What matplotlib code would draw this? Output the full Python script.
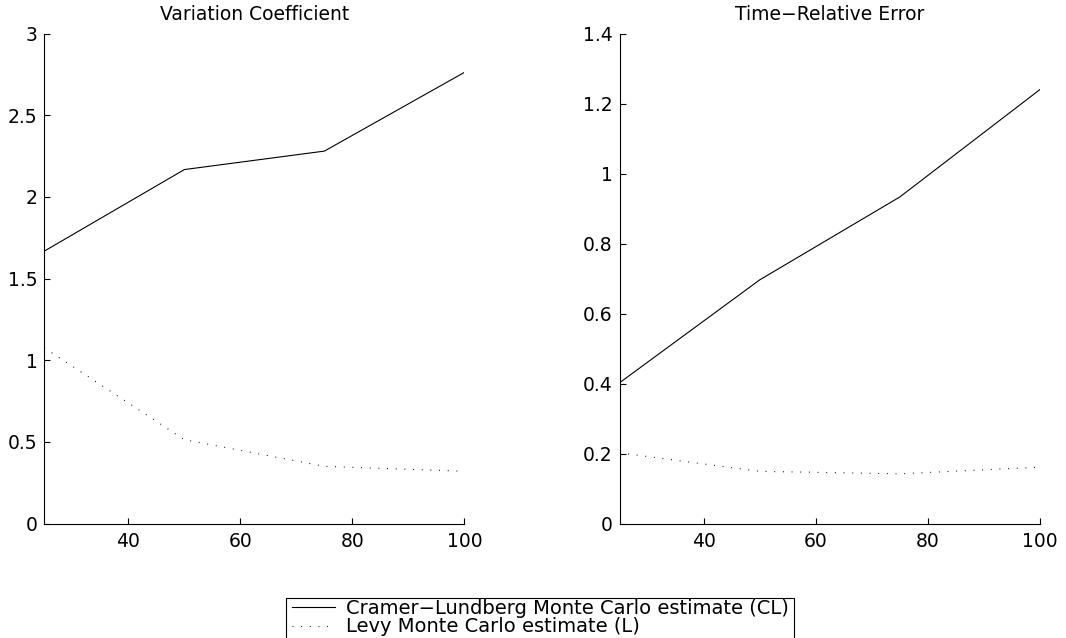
import matplotlib.pyplot as plt
from matplotlib.patches import Rectangle

plt.rcParams['font.family'] = ['DejaVu Sans']
plt.rcParams['font.size'] = 13.5

# sample sizes
n = [25, 50, 75, 100]

# variation coefficient
vc_cl = [1.668, 2.167, 2.280, 2.762]
vc_l = [1.075, 0.513, 0.350, 0.320]

# time-relative error
tre_cl = [0.402, 0.696, 0.933, 1.240]
tre_l = [0.202, 0.149, 0.142, 0.161]

labels = ['Cramer\u2212Lundberg Monte Carlo estimate (CL)',
          'Levy Monte Carlo estimate (L)']

dotted = (0, (0.8, 7))
W, H = 1066, 638


def style_axes(ax, ymax, yticks):
    ax.set_xlim(25, 100)
    ax.set_ylim(0, ymax)
    ax.set_xticks([40, 60, 80, 100])
    ax.set_yticks(yticks)
    ax.set_yticklabels(['%g' % t for t in yticks])
    ax.spines['top'].set_visible(False)
    ax.spines['right'].set_visible(False)
    for s in ('left', 'bottom'):
        ax.spines[s].set_linewidth(0.8)
    ax.tick_params(direction='in', length=4.5, width=0.8, labelsize=13.5)
    ax.tick_params(axis='x', pad=6)
    ax.tick_params(axis='y', pad=5)


fig = plt.figure(figsize=(W / 100, H / 100), dpi=100)
ax1 = fig.add_axes([44.4 / W, 114.5 / H, 420 / W, 490 / H])
ax2 = fig.add_axes([619.5 / W, 114.5 / H, 420.5 / W, 490 / H])

l1, = ax1.plot(n, vc_cl, color='black', lw=0.8)
l2, = ax1.plot(n, vc_l, color='black', lw=0.8, linestyle=dotted)
ax1.set_title('Variation Coefficient', fontsize=13.5, y=1.0, pad=10)
style_axes(ax1, 3, [0, 0.5, 1, 1.5, 2, 2.5, 3])

ax2.plot(n, tre_cl, color='black', lw=0.8)
ax2.plot(n, tre_l, color='black', lw=0.8, linestyle=dotted)
ax2.set_title('Time\u2212Relative Error', fontsize=13.5, y=1.0, pad=10)
style_axes(ax2, 1.4, [0, 0.2, 0.4, 0.6, 0.8, 1, 1.2, 1.4])

leg = fig.legend([l1, l2], labels, loc='upper left',
                 bbox_to_anchor=(292 / W, 1 - 598.5 / H),
                 fontsize=14, frameon=False,
                 handlelength=2.2, handletextpad=0.6, borderpad=0,
                 labelspacing=0.0, borderaxespad=0)

# box around the legend, open at the bottom edge of the figure
fig.canvas.draw()
bb = leg.get_window_extent()
x0 = bb.x0 - 6
x1 = bb.x1 + 5
top = H - 597.5
fig.add_artist(Rectangle((x0 / W, -0.05), (x1 - x0) / W, top / H + 0.05,
                         transform=fig.transFigure, fill=False,
                         edgecolor='black', lw=0.8))

fig.savefig('out.png', dpi=100)
